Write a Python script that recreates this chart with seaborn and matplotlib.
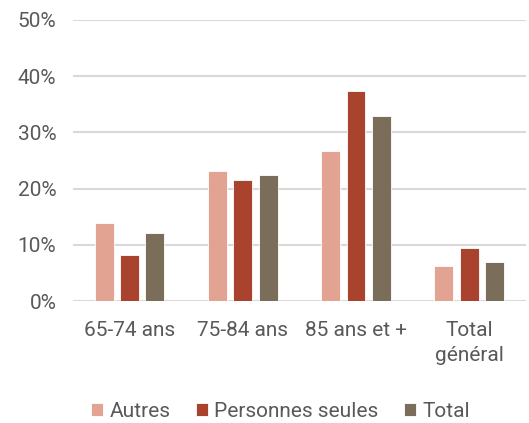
import numpy as np
import pandas as pd
import matplotlib
matplotlib.use("Agg")
import matplotlib.pyplot as plt
import seaborn as sns
from matplotlib.ticker import PercentFormatter

# données
categories = ["65-74 ans", "75-84 ans", "85 ans et +", "Total\ngénéral"]
autres = [13.9, 23.2, 26.7, 6.3]
personnes_seules = [8.2, 21.5, 37.4, 9.4]
total = [12.1, 22.5, 33.0, 7.0]
series = ["Autres", "Personnes seules", "Total"]
couleurs = ["#E3A393", "#A9432D", "#7A6E5B"]

df = pd.DataFrame({
    "categorie": categories * 3,
    "serie": np.repeat(series, len(categories)),
    "valeur": np.array(autres + personnes_seules + total) / 100,
})

sns.set_style("white")
plt.rcParams["font.family"] = ["Roboto", "DejaVu Sans"]
gris = "#595959"

fig = plt.figure(figsize=(5.29, 4.23), dpi=100)
ax = fig.add_axes([0.138, 0.288, 0.856, 0.665])

sns.barplot(data=df, x="categorie", y="valeur", hue="serie", palette=couleurs,
            saturation=1, width=0.67, gap=0.25, edgecolor="white", linewidth=0.6,
            ax=ax, zorder=3)

ax.set_ylim(0, 0.5)
ax.set_yticks(np.arange(0, 0.51, 0.1))
ax.yaxis.set_major_formatter(PercentFormatter(1.0, decimals=0))
ax.grid(axis="y", color="#D9D9D9", linewidth=1.5, zorder=0)
ax.set_axisbelow(True)
for s in ax.spines.values():
    s.set_visible(False)
ax.set_xlabel("")
ax.set_ylabel("")
ax.tick_params(axis="y", length=0, pad=12, labelsize=15, labelcolor=gris)
ax.tick_params(axis="x", length=0, pad=14, labelsize=15, labelcolor=gris)
for t in ax.get_xticklabels():
    t.set_linespacing(1.45)

ax.legend_.remove()
handles, labels = ax.get_legend_handles_labels()
fig.legend(handles, labels, loc="center", bbox_to_anchor=(0.53, 0.027), ncol=3,
           frameon=False, fontsize=15, labelcolor=gris, handlelength=0.6,
           handleheight=0.6, handletextpad=0.3, columnspacing=1.2)

fig.savefig("out.png", dpi=100)
